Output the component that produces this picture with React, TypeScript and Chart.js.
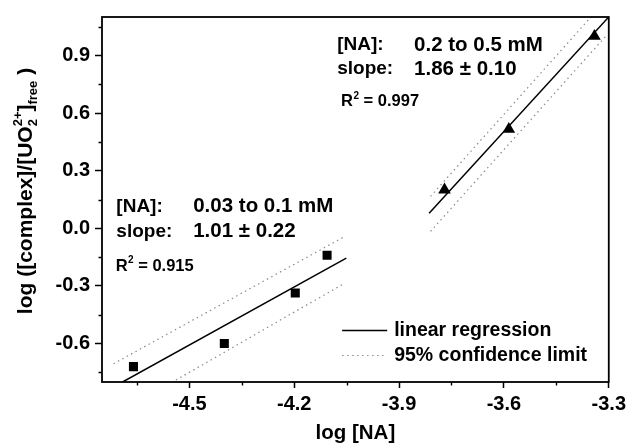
import React, { useEffect, useRef } from 'react';
import { Chart, registerables } from 'chart.js';
Chart.register(...registerables);

// ---- data ----
const squareX = [-4.66, -4.4, -4.197, -4.106];
const squareY = [-0.72, -0.6, -0.337, -0.14];
const triangleX = [-3.77, -3.586, -3.341];
const triangleY = [0.2, 0.516, 1.0];

const lowFitX = [-4.691, -4.051];
const lowFitY = [-0.8, -0.155];
const lowUpperX = [-4.717, -4.06];
const lowUpperY = [-0.705, -0.047];
const lowLowerX = [-4.551, -4.06];
const lowLowerY = [-0.803, -0.29];
const highFitX = [-3.814, -3.3];
const highFitY = [0.078, 1.1];
const highUpperX = [-3.81, -3.351];
const highUpperY = [0.166, 1.1];
const highLowerX = [-3.81, -3.306];
const highLowerY = [-0.016, 1.005];

const xMajorTicks = [-4.5, -4.2, -3.9, -3.6, -3.3];
const xMinorTicks = [-4.65, -4.35, -4.05, -3.75, -3.45];
const yMajorTicks = [-0.6, -0.3, 0, 0.3, 0.6, 0.9];
const yMinorTicks = [-0.75, -0.45, -0.15, 0.15, 0.45, 0.75, 1.05];

const xTitle = 'log [NA]';
const legendLabels = ['linear regression', '95% confidence limit'];
const rangeLabels = ['0.03 to 0.1 mM', '0.2 to 0.5 mM'];
const slopeLabels = ['1.01 ± 0.22', '1.86 ± 0.10'];
const r2Labels = ['0.915', '0.997'];

// ---- layout (data coordinates of text anchors) ----
const annoLayout = [
  { labelX: -4.709, valueX: -4.489, rangeY: 0.114, slopeY: -0.016, r2X: -4.711, r2Y: -0.197 },
  { labelX: -4.077, valueX: -3.857, rangeY: 0.953, slopeY: 0.829, r2X: -4.066, r2Y: 0.658 },
];
const legendLayout = { lineX0: -4.063, lineX1: -3.934, textX: -3.914, rowY: [-0.528, -0.658] };

const FONT = "'Liberation Sans', Arial, Helvetica, sans-serif";
const pts = (xs: number[], ys: number[]) => xs.map((x, i) => ({ x, y: ys[i] }));
const fmt = (v: number) => (Math.abs(v) < 1e-9 ? '0.0' : v.toFixed(1));

const solidStyle = { borderColor: '#000', borderWidth: 1.5, borderDash: [] as number[] };
const dotStyle = { borderColor: '#8a8a8a', borderWidth: 1.2, borderDash: [1.5, 3.5] };

const lineDs = (label: string, xs: number[], ys: number[], st: any) => ({
  type: 'line' as const,
  label,
  data: pts(xs, ys),
  showLine: true,
  pointRadius: 0,
  fill: false,
  tension: 0,
  borderColor: st.borderColor,
  borderWidth: st.borderWidth,
  borderDash: st.borderDash,
});

const overlay = {
  id: 'overlay',
  afterDraw(chart: any) {
    const { ctx, chartArea: a, scales } = chart;
    const xs = scales.x, ys = scales.y;
    const px = (v: number) => xs.getPixelForValue(v);
    const py = (v: number) => ys.getPixelForValue(v);
    ctx.save();
    // frame
    ctx.strokeStyle = '#000';
    ctx.lineWidth = 1.8;
    ctx.setLineDash([]);
    ctx.strokeRect(a.left, a.top, a.right - a.left, a.bottom - a.top);
    // minor ticks
    ctx.lineWidth = 1.4;
    ctx.beginPath();
    xMinorTicks.forEach((v) => {
      const x = Math.round(px(v)) + 0.5;
      ctx.moveTo(x, a.bottom);
      ctx.lineTo(x, a.bottom + 3.5);
    });
    yMinorTicks.forEach((v) => {
      const y = Math.round(py(v)) + 0.5;
      ctx.moveTo(a.left, y);
      ctx.lineTo(a.left - 3.5, y);
    });
    ctx.stroke();

    ctx.fillStyle = '#000';
    // x title
    ctx.font = `bold 20.5px ${FONT}`;
    ctx.textAlign = 'center';
    ctx.textBaseline = 'alphabetic';
    ctx.fillText(xTitle, (a.left + a.right) / 2, 439);

    // y title with sub/superscripts
    const big = `bold 21px ${FONT}`;
    const small = `bold 13px ${FONT}`;
    const segs: any[] = [
      { t: 'log ([complex]/[UO', f: big, dy: 0 },
      { stack: [{ t: '2', f: small, dy: 5 }, { t: '2+', f: small, dy: -10 }] },
      { t: ']', f: big, dy: 0 },
      { t: 'free', f: small, dy: 5 },
      { t: ' )', f: big, dy: 0 },
    ];
    const w = (s: any) => {
      if (s.stack) return Math.max(...s.stack.map((q: any) => { ctx.font = q.f; return ctx.measureText(q.t).width; }));
      ctx.font = s.f;
      return ctx.measureText(s.t).width;
    };
    const total = segs.reduce((acc, s) => acc + w(s), 0);
    ctx.translate(32, 191);
    ctx.rotate(-Math.PI / 2);
    ctx.textAlign = 'left';
    let cx = -total / 2;
    segs.forEach((s) => {
      const sw = w(s);
      const items = s.stack ? s.stack : [s];
      items.forEach((q: any) => {
        ctx.font = q.f;
        ctx.fillText(q.t, cx, q.dy);
      });
      cx += sw;
    });
    ctx.setTransform(1, 0, 0, 1, 0, 0);

    // annotations
    ctx.textAlign = 'left';
    ctx.textBaseline = 'middle';
    annoLayout.forEach((L, i) => {
      ctx.font = `bold 19px ${FONT}`;
      ctx.fillText('[NA]:', px(L.labelX), py(L.rangeY));
      ctx.fillText('slope:', px(L.labelX), py(L.slopeY));
      ctx.font = `bold 20.5px ${FONT}`;
      ctx.fillText(rangeLabels[i], px(L.valueX), py(L.rangeY));
      ctx.fillText(slopeLabels[i], px(L.valueX), py(L.slopeY));
      // R^2
      let x = px(L.r2X);
      const y = py(L.r2Y);
      ctx.font = `bold 16.5px ${FONT}`;
      ctx.fillText('R', x, y);
      x += ctx.measureText('R').width;
      ctx.font = `bold 10px ${FONT}`;
      ctx.fillText('2', x + 0.5, y - 6);
      x += ctx.measureText('2').width + 0.5;
      ctx.font = `bold 16.5px ${FONT}`;
      ctx.fillText(' = ' + r2Labels[i], x, y);
    });

    // legend
    const styles = [solidStyle, dotStyle];
    legendLabels.forEach((lab, i) => {
      const y = Math.round(py(legendLayout.rowY[i])) + 0.5;
      ctx.strokeStyle = styles[i].borderColor;
      ctx.lineWidth = styles[i].borderWidth;
      ctx.setLineDash(styles[i].borderDash);
      ctx.beginPath();
      ctx.moveTo(px(legendLayout.lineX0), y);
      ctx.lineTo(px(legendLayout.lineX1), y);
      ctx.stroke();
      ctx.setLineDash([]);
      ctx.font = `bold 19.5px ${FONT}`;
      ctx.fillStyle = '#000';
      ctx.fillText(lab, px(legendLayout.textX), y);
    });
    ctx.restore();
  },
};

export default function App() {
  const ref = useRef<HTMLCanvasElement | null>(null);
  useEffect(() => {
    if (!ref.current) return;
    const tickFont = { family: FONT, size: 20, weight: 'bold' as const };
    const chart = new Chart(ref.current, {
      type: 'scatter',
      data: {
        datasets: [
          {
            label: 'squares',
            data: pts(squareX, squareY),
            pointStyle: 'rect',
            pointRadius: 6.4,
            backgroundColor: '#000',
            borderColor: '#000',
            borderWidth: 0,
          },
          {
            label: 'triangles',
            data: pts(triangleX, triangleY),
            pointStyle: 'triangle',
            pointRadius: 7.3,
            backgroundColor: '#000',
            borderColor: '#000',
            borderWidth: 0,
          },
          lineDs('low fit', lowFitX, lowFitY, solidStyle),
          lineDs('low upper', lowUpperX, lowUpperY, dotStyle),
          lineDs('low lower', lowLowerX, lowLowerY, dotStyle),
          lineDs('high fit', highFitX, highFitY, solidStyle),
          lineDs('high upper', highUpperX, highUpperY, dotStyle),
          lineDs('high lower', highLowerX, highLowerY, dotStyle),
        ] as any,
      },
      options: {
        animation: false,
        responsive: false,
        devicePixelRatio: 1,
        layout: { padding: { top: 15, right: 20, left: 0, bottom: 0 } },
        plugins: { legend: { display: false }, tooltip: { enabled: false } },
        scales: {
          x: {
            type: 'linear',
            min: -4.75,
            max: -3.3,
            afterFit: (s: any) => { s.height = 63; },
            afterBuildTicks: (s: any) => { s.ticks = xMajorTicks.map((v) => ({ value: v })); },
            ticks: { callback: (v: any) => fmt(Number(v)), font: tickFont, color: '#000', padding: 4, maxRotation: 0, autoSkip: false },
            grid: { drawOnChartArea: false, drawTicks: true, tickLength: 6, tickColor: '#000', tickWidth: 1.5 },
            border: { display: false },
          },
          y: {
            type: 'linear',
            min: -0.8,
            max: 1.1,
            afterFit: (s: any) => { s.width = 102; },
            afterBuildTicks: (s: any) => { s.ticks = yMajorTicks.map((v) => ({ value: v })); },
            ticks: { callback: (v: any) => fmt(Number(v)), font: tickFont, color: '#000', padding: 5, autoSkip: false },
            grid: { drawOnChartArea: false, drawTicks: true, tickLength: 7, tickColor: '#000', tickWidth: 1.5 },
            border: { display: false },
          },
        },
      } as any,
      plugins: [overlay],
    });
    return () => chart.destroy();
  }, []);
  return (
    <div style={{ position: 'absolute', left: 0, top: 0, width: 630, height: 445, background: '#fff' }}>
      <canvas ref={ref} width={630} height={445} style={{ display: 'block' }} />
    </div>
  );
}
